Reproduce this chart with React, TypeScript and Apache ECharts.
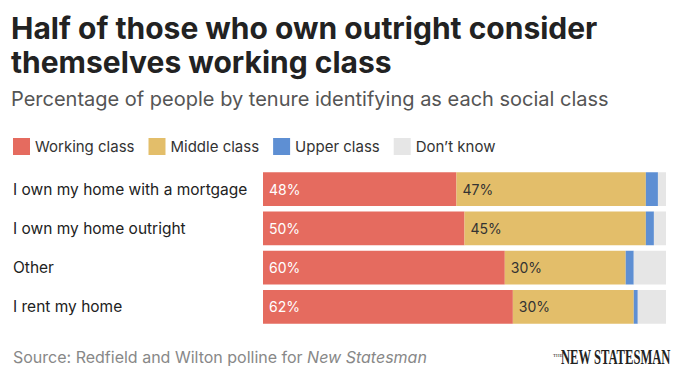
import React, { useEffect, useRef } from "react";
import * as echarts from "echarts";

const categories = [
  "I own my home with a mortgage",
  "I own my home outright",
  "Other",
  "I rent my home",
];
const seriesNames = ["Working class", "Middle class", "Upper class", "Don\u2019t know"];
const workingClass = [48, 50, 60, 62];
const middleClass = [47, 45, 30, 30];
const upperClass = [3, 2, 2, 1];
const dontKnow = [2, 3, 8, 7];

const FONT = "Inter, 'Noto Sans', sans-serif";
const colors = ["#e56b5f", "#e3be6a", "#5e8fd3", "#e6e6e6"];

export default function App() {
  const ref = useRef<HTMLDivElement>(null);
  useEffect(() => {
    if (!ref.current) return;
    const chart = echarts.init(ref.current, null, { renderer: "svg" });
    const values = [workingClass, middleClass, upperClass, dontKnow];
    const labelColors = ["#ffffff", "#333333", null, null];
    chart.setOption({
      animation: false,
      backgroundColor: "#ffffff",
      textStyle: { fontFamily: FONT },
      title: [
        {
          text: "Half of those who own outright consider\nthemselves working class",
          left: 11,
          top: 11,
          padding: 0,
          textStyle: {
            fontFamily: FONT,
            fontSize: 30,
            fontWeight: "bold",
            color: "#222222",
            lineHeight: 34,
          },
        },
        {
          text: "Percentage of people by tenure identifying as each social class",
          left: 11,
          top: 89,
          padding: 0,
          textStyle: {
            fontFamily: FONT,
            fontSize: 20,
            fontWeight: "normal",
            color: "#555555",
          },
        },
      ],
      legend: {
        left: 13,
        top: 138,
        padding: 0,
        itemWidth: 17,
        itemHeight: 17,
        itemGap: 14,
        icon: "rect",
        data: seriesNames,
        textStyle: { fontFamily: FONT, fontSize: 15, color: "#333333" },
      },
      grid: { left: 263, right: 14, top: 169.5, height: 157, containLabel: false },
      xAxis: { type: "value", min: 0, max: 100, show: false },
      yAxis: {
        type: "category",
        data: categories,
        inverse: true,
        axisLine: { show: false },
        axisTick: { show: false },
        axisLabel: {
          align: "left",
          margin: 250,
          fontFamily: FONT,
          fontSize: 15.5,
          color: "#222222",
        },
      },
      series: seriesNames.map((name, i) => ({
        name,
        type: "bar",
        stack: "total",
        data: values[i],
        barCategoryGap: "14%",
        itemStyle: { color: colors[i] },
        label: {
          show: labelColors[i] !== null,
          position: "insideLeft",
          distance: 6,
          formatter: "{c}%",
          fontFamily: FONT,
          fontSize: 14,
          color: labelColors[i] || "#333",
        },
      })),
      graphic: [
        {
          type: "text",
          left: 13,
          top: 349,
          style: {
            text: "{n|Source: Redfield and Wilton polline for }{i|New Statesman}",
            rich: {
              n: { fontFamily: FONT, fontSize: 16, fill: "#888888", color: "#888888" },
              i: { fontFamily: FONT, fontSize: 16, fontStyle: "italic", fill: "#888888", color: "#888888" },
            },
            fontFamily: FONT,
            fontSize: 16,
            fill: "#888888",
          },
        },
        {
          type: "group",
          x: 553,
          y: 347,
          children: [
            {
              type: "text",
              x: 0,
              y: 6,
              style: { text: "THE", fontFamily: "'Liberation Serif', serif", fontSize: 5, fill: "#222" },
            },
            {
              type: "text",
              x: 8,
              y: 0,
              scaleX: 0.6,
              style: {
                text: "NEW STATESMAN",
                fontFamily: "'Liberation Serif', serif",
                fontSize: 21,
                fontWeight: "bold",
                fill: "#222",
              },
            },
          ],
        },
      ],
    });
    return () => chart.dispose();
  }, []);
  return <div ref={ref} style={{ width: 680, height: 382, position: "absolute", left: 0, top: 0 }} />;
}
